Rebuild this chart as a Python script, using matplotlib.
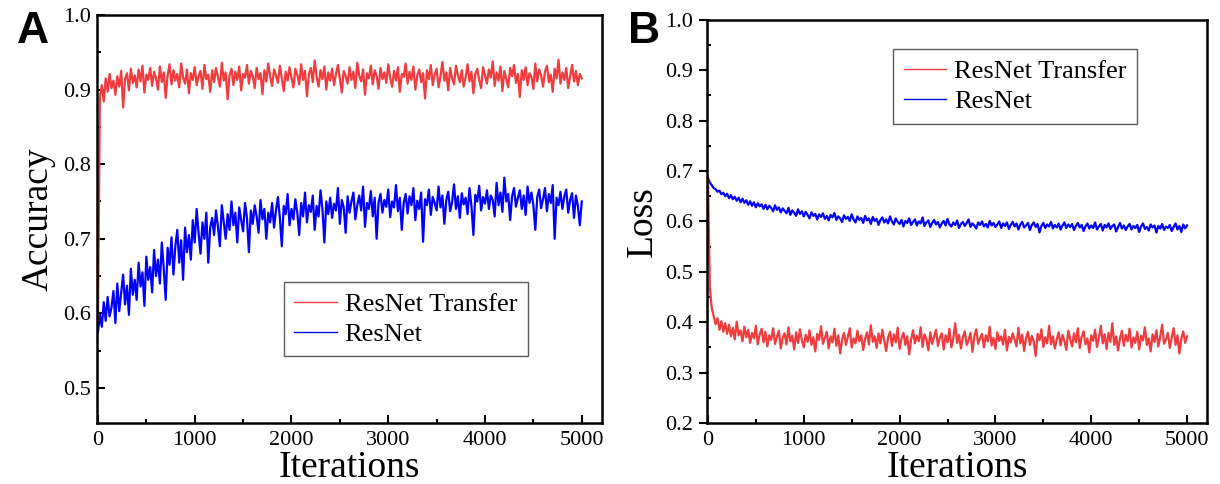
# Training curves: accuracy (A) and loss (B) for ResNet vs ResNet Transfer

import numpy as np
import matplotlib
matplotlib.use("Agg")
import matplotlib.pyplot as plt
from matplotlib.ticker import MultipleLocator, FormatStrFormatter

SERIF = ['Liberation Serif', 'DejaVu Serif']
plt.rcParams['font.family'] = SERIF

# Sampling grid (iterations)
iterations = np.arange(0, 5001, 20)

# Panel A - accuracy
acc_transfer = [
    0.590, 0.890, 0.906, 0.884, 0.915, 0.897, 0.921, 0.902, 0.912, 0.893,
    0.918, 0.904, 0.925, 0.876, 0.914, 0.922, 0.899, 0.928, 0.909, 0.919,
    0.903, 0.927, 0.911, 0.932, 0.896, 0.920, 0.913, 0.929, 0.905, 0.924,
    0.915, 0.900, 0.931, 0.910, 0.923, 0.889, 0.919, 0.934, 0.907, 0.926,
    0.912, 0.921, 0.903, 0.935, 0.916, 0.908, 0.927, 0.895, 0.922, 0.913,
    0.930, 0.906, 0.918, 0.925, 0.901, 0.933, 0.914, 0.920, 0.897, 0.926,
    0.910, 0.929, 0.917, 0.904, 0.936, 0.912, 0.923, 0.887, 0.919, 0.928,
    0.906, 0.924, 0.913, 0.931, 0.899, 0.921, 0.916, 0.933, 0.908, 0.925,
    0.918, 0.902, 0.929, 0.914, 0.922, 0.894, 0.926, 0.911, 0.935, 0.917,
    0.905, 0.927, 0.919, 0.909, 0.932, 0.915, 0.898, 0.924, 0.912, 0.930,
    0.916, 0.903, 0.928, 0.920, 0.907, 0.934, 0.913, 0.925, 0.891, 0.921,
    0.929, 0.910, 0.939, 0.917, 0.904, 0.926, 0.914, 0.931, 0.900, 0.923,
    0.912, 0.928, 0.906, 0.921, 0.933, 0.915, 0.896, 0.925, 0.918, 0.908,
    0.930, 0.913, 0.924, 0.902, 0.936, 0.919, 0.911, 0.927, 0.893, 0.922,
    0.915, 0.932, 0.907, 0.926, 0.918, 0.901, 0.929, 0.914, 0.923, 0.909,
    0.934, 0.916, 0.904, 0.925, 0.912, 0.930, 0.897, 0.921, 0.917, 0.935,
    0.908, 0.924, 0.913, 0.931, 0.900, 0.919, 0.927, 0.910, 0.922, 0.888,
    0.926, 0.914, 0.933, 0.906, 0.920, 0.928, 0.903, 0.918, 0.937, 0.912,
    0.923, 0.899, 0.929, 0.915, 0.907, 0.932, 0.919, 0.910, 0.926, 0.904,
    0.917, 0.934, 0.911, 0.924, 0.895, 0.921, 0.928, 0.913, 0.902, 0.930,
    0.919, 0.908, 0.927, 0.916, 0.938, 0.905, 0.923, 0.912, 0.931, 0.898,
    0.925, 0.914, 0.903, 0.929, 0.918, 0.933, 0.909, 0.921, 0.890, 0.926,
    0.913, 0.930, 0.906, 0.922, 0.917, 0.901, 0.935, 0.911, 0.927, 0.919,
    0.904, 0.924, 0.932, 0.910, 0.920, 0.897, 0.928, 0.915, 0.940, 0.908,
    0.923, 0.913, 0.929, 0.902, 0.918, 0.933, 0.911, 0.925, 0.906, 0.921,
    0.915,
]
acc_resnet = [
    0.575, 0.598, 0.582, 0.615, 0.590, 0.622, 0.596, 0.608, 0.630, 0.587,
    0.640, 0.603, 0.628, 0.652, 0.612, 0.637, 0.598, 0.660, 0.625, 0.645,
    0.618, 0.668, 0.636, 0.655, 0.610, 0.676, 0.645, 0.662, 0.628, 0.685,
    0.650, 0.672, 0.640, 0.695, 0.660, 0.618, 0.688, 0.665, 0.702, 0.652,
    0.690, 0.712, 0.668, 0.698, 0.645, 0.715, 0.682, 0.705, 0.672, 0.725,
    0.695, 0.740, 0.708, 0.680, 0.722, 0.700, 0.735, 0.668, 0.715, 0.728,
    0.705, 0.738, 0.716, 0.690, 0.745, 0.722, 0.700, 0.733, 0.712, 0.750,
    0.718, 0.735, 0.695, 0.742, 0.725, 0.710, 0.748, 0.728, 0.682, 0.738,
    0.720, 0.745, 0.730, 0.708, 0.752, 0.726, 0.740, 0.700, 0.735, 0.722,
    0.748, 0.715, 0.738, 0.756, 0.728, 0.690, 0.744, 0.733, 0.760, 0.718,
    0.740, 0.726, 0.753, 0.735, 0.705, 0.748, 0.730, 0.762, 0.722, 0.745,
    0.736, 0.758, 0.712, 0.744, 0.730, 0.765, 0.740, 0.695, 0.750, 0.733,
    0.755, 0.728, 0.747, 0.738, 0.768, 0.720, 0.752, 0.742, 0.708, 0.757,
    0.735, 0.750, 0.762, 0.726, 0.745, 0.758, 0.738, 0.770, 0.716, 0.748,
    0.740, 0.764, 0.730, 0.755, 0.700, 0.749, 0.760, 0.735, 0.752, 0.743,
    0.766, 0.729, 0.750, 0.742, 0.772, 0.737, 0.755, 0.712, 0.748, 0.760,
    0.734, 0.757, 0.745, 0.768, 0.725, 0.751, 0.740, 0.762, 0.696, 0.753,
    0.745, 0.766, 0.732, 0.756, 0.748, 0.738, 0.770, 0.742, 0.758, 0.720,
    0.752, 0.763, 0.737, 0.749, 0.773, 0.740, 0.757, 0.728, 0.761, 0.746,
    0.755, 0.733, 0.768, 0.744, 0.705, 0.759, 0.750, 0.771, 0.738, 0.756,
    0.747, 0.765, 0.740, 0.758, 0.752, 0.730, 0.775, 0.745, 0.762, 0.736,
    0.782, 0.750, 0.760, 0.725, 0.757, 0.768, 0.743, 0.755, 0.765, 0.740,
    0.758, 0.732, 0.770, 0.748, 0.762, 0.745, 0.712, 0.756, 0.766, 0.741,
    0.753, 0.768, 0.737, 0.760, 0.748, 0.772, 0.700, 0.755, 0.745, 0.763,
    0.740, 0.757, 0.766, 0.735, 0.752, 0.761, 0.728, 0.758, 0.744, 0.718,
    0.750,
]

# Panel B - loss
loss_transfer = [
    0.690, 0.468, 0.428, 0.412, 0.396, 0.408, 0.385, 0.402, 0.381, 0.398,
    0.377, 0.395, 0.372, 0.389, 0.366, 0.401, 0.374, 0.384, 0.362, 0.391,
    0.370, 0.385, 0.359, 0.379, 0.368, 0.393, 0.356, 0.376, 0.387, 0.360,
    0.381, 0.352, 0.374, 0.365, 0.388, 0.357, 0.371, 0.383, 0.348, 0.369,
    0.378, 0.356, 0.390, 0.362, 0.373, 0.346, 0.380, 0.359, 0.386, 0.364,
    0.350, 0.375, 0.361, 0.384, 0.355, 0.370, 0.342, 0.377, 0.365, 0.392,
    0.357, 0.369, 0.381, 0.348, 0.372, 0.360, 0.387, 0.353, 0.374, 0.338,
    0.366, 0.379, 0.355, 0.371, 0.388, 0.350, 0.368, 0.358, 0.383, 0.362,
    0.374, 0.345, 0.367, 0.380, 0.356, 0.394, 0.361, 0.372, 0.349, 0.378,
    0.358, 0.385, 0.364, 0.343, 0.370, 0.381, 0.353, 0.376, 0.360, 0.389,
    0.347, 0.368, 0.379, 0.355, 0.372, 0.336, 0.365, 0.384, 0.358, 0.373,
    0.362, 0.390, 0.351, 0.376, 0.366, 0.344, 0.380, 0.357, 0.371, 0.385,
    0.353, 0.369, 0.378, 0.346, 0.374, 0.360, 0.387, 0.350, 0.367, 0.398,
    0.359, 0.375, 0.348, 0.370, 0.382, 0.355, 0.364, 0.379, 0.341, 0.372,
    0.386, 0.357, 0.368, 0.377, 0.350, 0.374, 0.362, 0.391, 0.354, 0.369,
    0.347, 0.380, 0.363, 0.372, 0.356, 0.385, 0.344, 0.371, 0.360, 0.378,
    0.366, 0.352, 0.389, 0.358, 0.375, 0.343, 0.369, 0.381, 0.355, 0.373,
    0.361, 0.333, 0.377, 0.364, 0.386, 0.351, 0.370, 0.358, 0.393, 0.356,
    0.372, 0.348, 0.366, 0.380, 0.354, 0.375, 0.362, 0.345, 0.383, 0.367,
    0.352, 0.378, 0.360, 0.388, 0.349, 0.371, 0.382, 0.356, 0.368, 0.340,
    0.374, 0.363, 0.385, 0.351, 0.369, 0.393, 0.358, 0.376, 0.347, 0.379,
    0.361, 0.398, 0.355, 0.372, 0.344, 0.368, 0.383, 0.353, 0.375, 0.362,
    0.387, 0.350, 0.370, 0.359, 0.381, 0.346, 0.373, 0.364, 0.390, 0.355,
    0.368, 0.342, 0.376, 0.361, 0.384, 0.352, 0.371, 0.395, 0.357, 0.366,
    0.379, 0.349, 0.370, 0.388, 0.355, 0.374, 0.338, 0.367, 0.382, 0.359,
    0.372,
]
loss_resnet = [
    0.686, 0.677, 0.672, 0.666, 0.664, 0.659, 0.661, 0.654, 0.657, 0.650,
    0.655, 0.646, 0.652, 0.644, 0.649, 0.641, 0.647, 0.638, 0.645, 0.637,
    0.642, 0.633, 0.640, 0.631, 0.638, 0.628, 0.636, 0.630, 0.634, 0.625,
    0.633, 0.624, 0.631, 0.627, 0.620, 0.632, 0.623, 0.628, 0.618, 0.626,
    0.621, 0.616, 0.627, 0.613, 0.622, 0.617, 0.611, 0.624, 0.615, 0.620,
    0.610, 0.619, 0.613, 0.606, 0.618, 0.611, 0.615, 0.604, 0.614, 0.609,
    0.616, 0.605, 0.611, 0.602, 0.613, 0.608, 0.617, 0.603, 0.610, 0.606,
    0.599, 0.612, 0.605, 0.609, 0.601, 0.614, 0.604, 0.598, 0.610, 0.603,
    0.607, 0.597, 0.611, 0.602, 0.606, 0.595, 0.609, 0.601, 0.605, 0.593,
    0.603, 0.608, 0.598, 0.604, 0.596, 0.610, 0.600, 0.594, 0.606, 0.599,
    0.595, 0.603, 0.590, 0.601, 0.597, 0.606, 0.593, 0.599, 0.604, 0.592,
    0.600, 0.596, 0.608, 0.591, 0.598, 0.602, 0.589, 0.597, 0.603, 0.594,
    0.599, 0.588, 0.596, 0.601, 0.592, 0.605, 0.594, 0.590, 0.598, 0.593,
    0.602, 0.587, 0.595, 0.599, 0.591, 0.597, 0.604, 0.589, 0.596, 0.592,
    0.586, 0.598, 0.593, 0.600, 0.590, 0.595, 0.588, 0.601, 0.592, 0.597,
    0.589, 0.594, 0.600, 0.587, 0.596, 0.591, 0.598, 0.585, 0.593, 0.599,
    0.590, 0.596, 0.584, 0.594, 0.599, 0.588, 0.592, 0.597, 0.583, 0.593,
    0.598, 0.589, 0.595, 0.578, 0.591, 0.597, 0.587, 0.594, 0.590, 0.599,
    0.586, 0.593, 0.588, 0.596, 0.584, 0.592, 0.598, 0.587, 0.594, 0.589,
    0.595, 0.583, 0.591, 0.597, 0.588, 0.593, 0.581, 0.590, 0.596, 0.586,
    0.592, 0.587, 0.598, 0.584, 0.590, 0.595, 0.582, 0.593, 0.588, 0.596,
    0.585, 0.591, 0.594, 0.580, 0.589, 0.597, 0.586, 0.592, 0.583, 0.590,
    0.595, 0.584, 0.591, 0.587, 0.593, 0.579, 0.590, 0.596, 0.585, 0.589,
    0.582, 0.594, 0.588, 0.592, 0.578, 0.591, 0.586, 0.595, 0.583, 0.590,
    0.587, 0.593, 0.581, 0.589, 0.596, 0.584, 0.591, 0.579, 0.594, 0.586,
    0.592,
]

series_labels = ["ResNet Transfer", "ResNet"]
RED = "#f03c3c"
BLUE = "#0000ff"


def style_axis(ax, major_dir):
    """Frame, ticks and limits shared by both panels."""
    for side in ax.spines.values():
        side.set_linewidth(1.8)
    ax.set_xlim(-10, 5210)
    ax.xaxis.set_major_locator(MultipleLocator(1000))
    ax.xaxis.set_minor_locator(MultipleLocator(500))
    ax.yaxis.set_major_locator(MultipleLocator(0.1))
    ax.yaxis.set_minor_locator(MultipleLocator(0.05))
    ax.yaxis.set_major_formatter(FormatStrFormatter('%.1f'))
    ax.tick_params(axis='x', which='major', direction='in', length=6, width=1.5,
                   labelsize=16, pad=6, labelfontfamily='Liberation Serif')
    ax.tick_params(axis='x', which='minor', direction='in', length=3, width=1.5)
    ax.tick_params(axis='y', which='major', direction=major_dir, length=6, width=1.5,
                   labelsize=16, pad=4, labelfontfamily='Liberation Serif')
    ax.tick_params(axis='y', which='minor', direction='in', length=3, width=1.5)
    ax.set_xlabel("Iterations", fontsize=27, labelpad=0)


def draw_panel(ax, red_vals, blue_vals, legend_anchor):
    blue_line, = ax.plot(iterations, blue_vals, color=BLUE, linewidth=1.6)
    red_line, = ax.plot(iterations, red_vals, color=RED, linewidth=1.6)
    leg = ax.legend([red_line, blue_line], series_labels, loc='upper left',
                    bbox_to_anchor=legend_anchor, borderaxespad=0,
                    fontsize=19, frameon=True, fancybox=False,
                    edgecolor='#333333', handlelength=1.6, handletextpad=0.3,
                    borderpad=0.4, labelspacing=0.25)
    leg.get_frame().set_linewidth(1.0)
    for handle in leg.get_lines():
        handle.set_linewidth(1.0)


def main():
    fig = plt.figure(figsize=(12.2, 4.84), dpi=100)
    ax_a = fig.add_axes([0.0795, 0.126, 0.414, 0.843])
    ax_b = fig.add_axes([0.5795, 0.126, 0.410, 0.833])

    draw_panel(ax_a, acc_transfer, acc_resnet, (0.37, 0.346))
    style_axis(ax_a, 'in')
    ax_a.set_ylim(0.453, 1.0)
    ax_a.set_ylabel("Accuracy", fontsize=27, labelpad=6)

    draw_panel(ax_b, loss_transfer, loss_resnet, (0.372, 0.928))
    style_axis(ax_b, 'out')
    ax_b.set_ylim(0.2, 1.0)
    ax_b.set_ylabel("Loss", fontsize=27, labelpad=4)

    # Panel letters
    for x, letter in [(0.014, "A"), (0.515, "B")]:
        fig.text(x, 0.978, letter, fontsize=32, fontweight='bold',
                 family=['Liberation Sans', 'DejaVu Sans'], va='top', ha='left')

    fig.savefig("out.png", dpi=100)


if __name__ == "__main__":
    main()
